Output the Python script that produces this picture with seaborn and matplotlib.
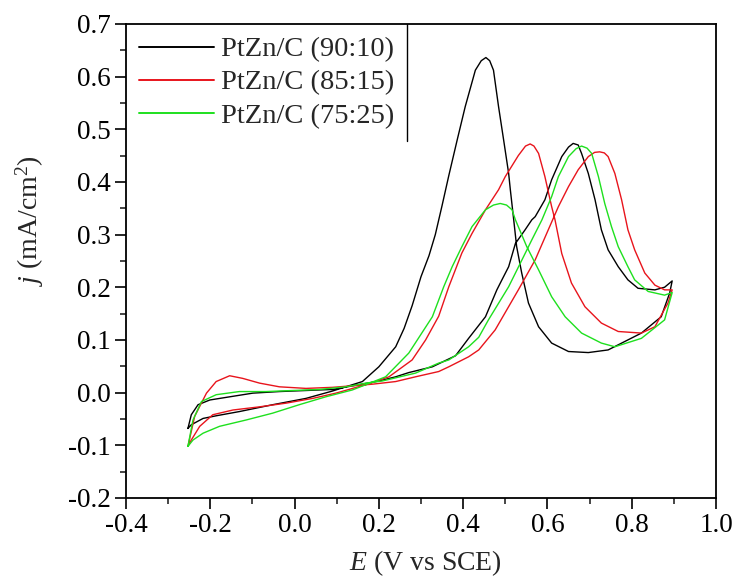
import numpy as np
import pandas as pd
import matplotlib
matplotlib.use("Agg")
import matplotlib.pyplot as plt
import seaborn as sns

samples = ["PtZn/C (90:10)", "PtZn/C (85:15)", "PtZn/C (75:25)"]
colors = ["#000000", "#e8141c", "#1ee01e"]

# PtZn/C (90:10) – anodic (forward) scan
E_fwd_9010 = [-0.253, -0.245, -0.229, -0.201, -0.154, -0.099, -0.036, 0.027, 0.090, 0.153, 0.200,
              0.240, 0.271, 0.327, 0.382, 0.413, 0.453, 0.480, 0.492, 0.508, 0.524, 0.547, 0.563,
              0.571, 0.594, 0.610, 0.634, 0.650, 0.661, 0.673, 0.681, 0.697, 0.713, 0.728, 0.744,
              0.768, 0.791, 0.815, 0.855, 0.878, 0.896]
j_fwd_9010 = [-0.068, -0.042, -0.023, -0.014, -0.008, -0.001, 0.002, 0.004, 0.006, 0.015, 0.022,
              0.030, 0.038, 0.049, 0.070, 0.103, 0.144, 0.195, 0.214, 0.239, 0.283, 0.309, 0.328,
              0.334, 0.366, 0.404, 0.448, 0.466, 0.473, 0.470, 0.454, 0.416, 0.366, 0.309, 0.271,
              0.239, 0.214, 0.198, 0.195, 0.200, 0.212]
# PtZn/C (90:10) – cathodic (reverse) scan
E_rev_9010 = [0.896, 0.890, 0.870, 0.823, 0.744, 0.697, 0.650, 0.610, 0.579, 0.555, 0.539, 0.527,
              0.520, 0.512, 0.508, 0.496, 0.484, 0.472, 0.463, 0.454, 0.443, 0.429, 0.405, 0.386,
              0.366, 0.350, 0.334, 0.319, 0.300, 0.279, 0.260, 0.240, 0.200, 0.161, 0.090, 0.027,
              -0.052, -0.131, -0.186, -0.217, -0.245, -0.253]
j_rev_9010 = [0.212, 0.189, 0.144, 0.113, 0.081, 0.076, 0.078, 0.094, 0.125, 0.170, 0.227, 0.277,
              0.328, 0.385, 0.416, 0.480, 0.543, 0.612, 0.630, 0.636, 0.630, 0.612, 0.543, 0.480,
              0.412, 0.355, 0.300, 0.260, 0.220, 0.165, 0.122, 0.087, 0.049, 0.021, 0.003, -0.011,
              -0.023, -0.036, -0.044, -0.049, -0.061, -0.068]

# PtZn/C (85:15)
E_fwd_8515 = [-0.253, -0.237, -0.209, -0.186, -0.154, -0.123, -0.083, -0.036, 0.027, 0.090, 0.137,
              0.185, 0.240, 0.287, 0.342, 0.366, 0.413, 0.437, 0.476, 0.531, 0.571, 0.602, 0.626,
              0.650, 0.673, 0.697, 0.712, 0.724, 0.735, 0.744, 0.760, 0.776, 0.791, 0.807, 0.831,
              0.855, 0.878, 0.896]
j_fwd_8515 = [-0.102, -0.045, -0.001, 0.021, 0.032, 0.027, 0.018, 0.011, 0.008, 0.010, 0.013,
              0.016, 0.021, 0.030, 0.040, 0.049, 0.068, 0.081, 0.119, 0.195, 0.252, 0.309, 0.353,
              0.391, 0.423, 0.448, 0.456, 0.457, 0.455, 0.448, 0.416, 0.366, 0.309, 0.271, 0.227,
              0.204, 0.195, 0.195]
E_rev_8515 = [0.896, 0.886, 0.855, 0.823, 0.768, 0.728, 0.689, 0.657, 0.634, 0.618, 0.610, 0.594,
              0.579, 0.568, 0.559, 0.548, 0.531, 0.500, 0.484, 0.453, 0.421, 0.397, 0.366, 0.342,
              0.311, 0.279, 0.224, 0.169, 0.098, 0.043, -0.020, -0.083, -0.146, -0.194, -0.225,
              -0.245, -0.253]
j_rev_8515 = [0.195, 0.170, 0.125, 0.113, 0.116, 0.132, 0.163, 0.208, 0.264, 0.328, 0.353, 0.410,
              0.454, 0.468, 0.472, 0.468, 0.450, 0.410, 0.385, 0.347, 0.302, 0.265, 0.201, 0.145,
              0.100, 0.062, 0.030, 0.015, -0.001, -0.011, -0.020, -0.027, -0.033, -0.042, -0.064,
              -0.090, -0.102]

# PtZn/C (75:25)
E_fwd_7525 = [-0.253, -0.241, -0.221, -0.186, -0.131, -0.068, -0.004, 0.059, 0.122, 0.169, 0.208,
              0.250, 0.287, 0.342, 0.366, 0.413, 0.437, 0.460, 0.508, 0.547, 0.563, 0.587, 0.610,
              0.626, 0.650, 0.668, 0.681, 0.694, 0.705, 0.721, 0.736, 0.752, 0.768, 0.791, 0.807,
              0.839, 0.878, 0.896]
j_fwd_7525 = [-0.102, -0.052, -0.017, -0.004, 0.002, 0.002, 0.004, 0.006, 0.011, 0.018, 0.022,
              0.030, 0.037, 0.056, 0.062, 0.087, 0.105, 0.138, 0.201, 0.264, 0.290, 0.328, 0.372,
              0.410, 0.448, 0.463, 0.468, 0.464, 0.454, 0.410, 0.359, 0.315, 0.277, 0.239, 0.214,
              0.192, 0.185, 0.190]
E_rev_7525 = [0.896, 0.878, 0.823, 0.760, 0.728, 0.681, 0.642, 0.610, 0.579, 0.551, 0.524, 0.516,
              0.503, 0.488, 0.472, 0.453, 0.421, 0.397, 0.374, 0.354, 0.327, 0.271, 0.216, 0.169,
              0.137, 0.074, 0.011, -0.052, -0.115, -0.178, -0.217, -0.241, -0.253]
j_rev_7525 = [0.190, 0.138, 0.103, 0.087, 0.094, 0.113, 0.144, 0.182, 0.233, 0.277, 0.328, 0.347,
              0.356, 0.359, 0.356, 0.347, 0.315, 0.277, 0.239, 0.201, 0.144, 0.075, 0.030, 0.015,
              0.005, -0.008, -0.023, -0.039, -0.052, -0.064, -0.077, -0.090, -0.102]

x_ticks = [-0.4, -0.2, 0.0, 0.2, 0.4, 0.6, 0.8, 1.0]
x_tick_labels = ["-0.4", "-0.2", "0.0", "0.2", "0.4", "0.6", "0.8", "1.0"]
y_ticks = [-0.2, -0.1, 0.0, 0.1, 0.2, 0.3, 0.4, 0.5, 0.6, 0.7]
y_tick_labels = ["-0.2", "-0.1", "0.0", "0.1", "0.2", "0.3", "0.4", "0.5", "0.6", "0.7"]

curves = [
    (samples[0], E_fwd_9010 + E_rev_9010, j_fwd_9010 + j_rev_9010),
    (samples[1], E_fwd_8515 + E_rev_8515, j_fwd_8515 + j_rev_8515),
    (samples[2], E_fwd_7525 + E_rev_7525, j_fwd_7525 + j_rev_7525),
]
frames = []
for name, E, j in curves:
    frames.append(pd.DataFrame({"sample": name, "E": E, "j": j, "step": np.arange(len(E))}))
df = pd.concat(frames, ignore_index=True)

sns.set_theme(style="ticks")
plt.rcParams["font.family"] = ["Liberation Serif", "DejaVu Serif"]
plt.rcParams["mathtext.fontset"] = "custom"
plt.rcParams["mathtext.rm"] = "Liberation Serif"
plt.rcParams["mathtext.it"] = "Liberation Serif:italic"
plt.rcParams["axes.unicode_minus"] = False

fig = plt.figure(figsize=(7.38, 5.81), dpi=100)
ax = fig.add_axes([0.1707, 0.1429, 0.7995, 0.8161])

sns.lineplot(data=df, x="E", y="j", hue="sample", hue_order=samples, palette=colors,
             sort=False, estimator=None, linewidth=1.0, ax=ax, legend=True)

ax.set_xlim(-0.4, 1.0)
ax.set_ylim(-0.2, 0.7)
ax.set_xticks(x_ticks)
ax.set_xticklabels(x_tick_labels)
ax.set_yticks(y_ticks)
ax.set_yticklabels(y_tick_labels)
ax.set_xticks(np.arange(-0.3, 1.0, 0.2), minor=True)
ax.set_yticks(np.arange(-0.15, 0.7, 0.1), minor=True)
ax.tick_params(axis="both", which="major", direction="out", length=8, width=1.2,
               labelsize=19.5, colors="black", pad=3, top=False, right=False)
ax.tick_params(axis="both", which="minor", direction="out", length=4.5, width=1.2,
               top=False, right=False)
for s in ax.spines.values():
    s.set_visible(True)
    s.set_linewidth(1.3)
    s.set_color("black")

ax.set_xlabel(r"$E$ (V vs SCE)", fontsize=20)
ax.set_ylabel(r"$j$ (mA/cm$^2$)", fontsize=20)
ax.xaxis.set_label_coords(0.507, -0.105)
ax.yaxis.set_label_coords(-0.135, 0.585)

handles, labels = ax.get_legend_handles_labels()
leg = ax.legend(handles, labels, loc="upper left", bbox_to_anchor=(0.0, 1.0),
                frameon=False, fontsize=20.5, handlelength=2.65, handletextpad=0.25,
                labelspacing=0.25, borderaxespad=0.0, borderpad=0.45)
for h in leg.get_lines():
    h.set_linewidth(1.4)

fig.canvas.draw()
bb = leg.get_window_extent().transformed(ax.transAxes.inverted())
ax.plot([bb.x1, bb.x1], [bb.y0, 1.0], transform=ax.transAxes, color="black", lw=1.0)

fig.savefig("out.png", dpi=100)
